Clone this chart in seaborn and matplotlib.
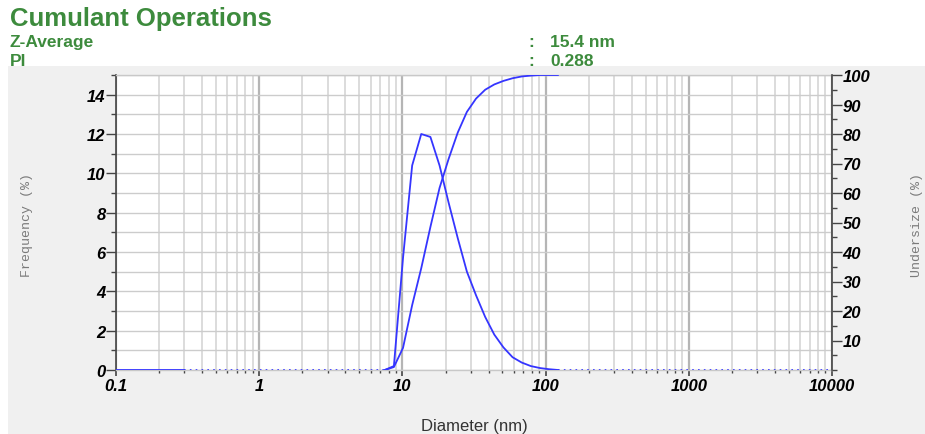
import matplotlib
matplotlib.use("Agg")
import matplotlib.pyplot as plt
import seaborn as sns
import pandas as pd
from matplotlib.patches import Rectangle
from matplotlib.ticker import LogLocator, FixedLocator, FixedFormatter, NullFormatter

# ---------------- data ----------------
sizes_nm = [7.531, 8.721, 10.1, 11.7, 13.54, 15.69, 18.17, 21.04, 24.36, 28.21,
            32.67, 37.84, 43.82, 50.75, 58.77, 68.06, 78.82, 91.28, 105.7, 122.4]
frequency_pct = [0.0, 0.2, 5.7, 10.4, 12.0, 11.85, 10.4, 8.5, 6.7, 5.0,
                 3.8, 2.7, 1.8, 1.15, 0.65, 0.38, 0.2, 0.1, 0.04, 0.0]
undersize_pct = [0.0, 1.0, 7.5, 22.0, 34.5, 48.5, 61.7, 71.6, 80.5, 87.5,
                 92.0, 95.0, 96.8, 98.0, 98.9, 99.5, 99.8, 100.0, 100.0, 100.0]
baseline_solid_nm = [0.1, 0.3]
baseline_dotted_left_nm = [0.3, 7.531]
baseline_dotted_right_nm = [122.4, 10000]

left_ticks = [0, 2, 4, 6, 8, 10, 12, 14]
right_ticks = [10, 20, 30, 40, 50, 60, 70, 80, 90, 100]
x_ticks = [0.1, 1, 10, 100, 1000, 10000]
x_tick_labels = ["0.1", "1", "10", "100", "1000", "10000"]

title = "Cumulant Operations"
z_avg_label, z_avg_value = "Z-Average", "15.4 nm"
pi_label, pi_value = "PI", "0.288"

# ---------------- style ----------------
sns.set_style("white")
plt.rcParams["font.family"] = ["Liberation Sans", "DejaVu Sans"]

W, H = 925, 435
fig = plt.figure(figsize=(W / 100, H / 100), dpi=100)
fig.patch.set_facecolor("white")
fig.patches.append(Rectangle((8 / W, 0), 1, 1 - 67 / H, transform=fig.transFigure,
                             facecolor="#f0f0f0", edgecolor="none", zorder=-10))

ax = fig.add_axes([116 / W, 1 - 371 / H, (832 - 116) / W, (371 - 76) / H])
ax.set_facecolor("white")
ax.set_xscale("log")

blue = "#3535ff"
green = "#3d8b3d"

df = pd.DataFrame({"size": sizes_nm, "freq": frequency_pct, "under": undersize_pct})

sns.lineplot(data=df, x="size", y="freq", ax=ax, color=blue, lw=1.3,
             estimator=None, sort=False, zorder=5)
sns.lineplot(x=baseline_solid_nm, y=[0, 0], ax=ax, color=blue, lw=1.3,
             estimator=None, zorder=5)
for seg in (baseline_dotted_left_nm, baseline_dotted_right_nm):
    sns.lineplot(x=seg, y=[0, 0], ax=ax, color=blue, lw=1.2,
                 linestyle=(0, (1, 2.5)), estimator=None, zorder=5)

ax.set_ylim(0, 15)
ax.set_xlabel("")
ax.set_ylabel("")

# right axis (undersize)
ax2 = ax.twinx()
sns.lineplot(data=df, x="size", y="under", ax=ax2, color=blue, lw=1.3,
             estimator=None, sort=False, zorder=5)
ax2.set_ylim(0, 100)
ax2.set_ylabel("")
ax2.set_xlabel("")
ax2.grid(False)

ax.set_xlim(0.1, 10000)

tick_font = dict(fontsize=12, fontweight="bold", fontstyle="italic", color="black")

# x axis ticks / grid
ax.xaxis.set_major_locator(FixedLocator(x_ticks))
ax.xaxis.set_major_formatter(FixedFormatter(x_tick_labels))
ax.xaxis.set_minor_locator(LogLocator(base=10, subs=range(2, 10)))
ax.xaxis.set_minor_formatter(NullFormatter())
for lbl in ax.get_xticklabels():
    lbl.set_fontsize(12)
    lbl.set_fontweight("bold")
    lbl.set_fontstyle("italic")
    lbl.set_color("black")

ax.yaxis.set_minor_locator(FixedLocator([1, 3, 5, 7, 9, 11, 13, 15]))
ax.set_yticks(left_ticks, labels=[str(t) for t in left_ticks], **tick_font)
ax.grid(which="major", axis="x", color="#b5b5b5", lw=1.6)
ax.grid(which="minor", axis="x", color="#d2d2d2", lw=1.1)
ax.grid(which="both", axis="y", color="#cccccc", lw=1.0)
ax.set_axisbelow(True)

ax.tick_params(axis="y", which="major", direction="out", length=7, width=1,
               color="#444444", pad=0.5, left=True)
ax.tick_params(axis="y", which="minor", direction="out", length=3.5, width=1,
               color="#444444", left=True)
ax.tick_params(axis="x", which="major", direction="out", length=4, width=1.2,
               color="#444444", pad=2, bottom=True, labelsize=12)
ax.tick_params(axis="x", which="minor", direction="out", length=2.5, width=1,
               color="#444444", bottom=True)

for s in ("top", "bottom"):
    ax.spines[s].set_color("#c8c8c8")
    ax.spines[s].set_linewidth(1)
ax.spines["left"].set_color("#444444")
ax.spines["left"].set_linewidth(1.2)
ax.spines["right"].set_visible(False)

ax2.set_yticks(right_ticks, labels=[str(t) for t in right_ticks], **tick_font)
ax2.yaxis.set_minor_locator(FixedLocator([0, 5, 15, 25, 35, 45, 55, 65, 75, 85, 95]))
ax2.tick_params(axis="y", which="major", direction="out", length=7, width=1,
                color="#444444", pad=0.5, right=True)
ax2.tick_params(axis="y", which="minor", direction="out", length=3.5, width=1,
                color="#444444", right=True)
for s in ("top", "bottom", "left"):
    ax2.spines[s].set_visible(False)
ax2.spines["right"].set_color("#444444")
ax2.spines["right"].set_linewidth(1.2)

# axis labels
fig.text(474 / W, 1 - 434 / H, "Diameter (nm)", ha="center", va="bottom",
         fontsize=12, color="#333333")
mono = ["Liberation Mono", "DejaVu Sans Mono"]
fig.text(27 / W, 1 - 225 / H, "Frequency (%)", rotation=90, ha="center", va="center",
         fontsize=9.5, color="#7a7a7a", family=mono)
fig.text(917 / W, 1 - 225 / H, "Undersize (%)", rotation=90, ha="center", va="center",
         fontsize=9.5, color="#7a7a7a", family=mono)

# header
hdr = dict(ha="left", va="baseline", fontweight="bold", color=green)
fig.text(10 / W, 1 - 26 / H, title, fontsize=18.5, **hdr)
fig.text(10 / W, 1 - 47 / H, z_avg_label, fontsize=12.5, **hdr)
fig.text(10 / W, 1 - 66 / H, pi_label, fontsize=12.5, **hdr)
fig.text(528 / W, 1 - 47 / H, ":", fontsize=12.5, **hdr)
fig.text(528 / W, 1 - 66 / H, ":", fontsize=12.5, **hdr)
fig.text(550 / W, 1 - 47 / H, z_avg_value, fontsize=12.5, **hdr)
fig.text(550 / W, 1 - 66 / H, pi_value, fontsize=12.5, **hdr)

fig.savefig("out.png", dpi=100, facecolor=fig.get_facecolor())
